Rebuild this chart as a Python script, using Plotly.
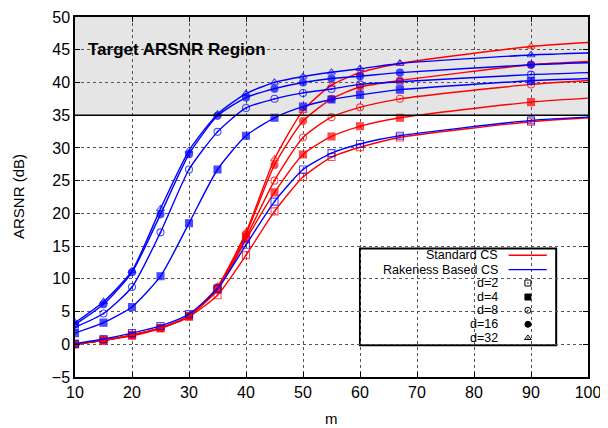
import plotly.graph_objects as go

m = [10, 15, 20, 25, 30, 35, 40, 45, 50, 55, 60, 67, 90, 100]
n_markers = 13  # last point (m=100) carries no marker

rake_d2 = [0.1, 0.8, 1.7, 2.8, 4.6, 8.5, 15.2, 21.8, 26.7, 29.2, 30.6, 31.85, 34.2, 34.7]
rake_d4 = [1.7, 3.3, 5.7, 10.4, 18.5, 26.7, 31.85, 34.6, 36.3, 37.4, 38.1, 38.9, 40.25, 40.6]
rake_d8 = [2.6, 4.7, 8.75, 17.1, 26.7, 32.45, 36.1, 37.5, 38.4, 39.0, 39.7, 40.1, 41.2, 41.5]
rake_d16 = [3.0, 6.1, 11.0, 19.85, 29.05, 34.9, 37.7, 39.05, 40.0, 40.6, 40.95, 41.5, 42.7, 43.0]
rake_d32 = [3.3, 6.5, 11.2, 20.7, 29.6, 35.15, 38.3, 40.0, 40.9, 41.55, 42.1, 42.9, 44.2, 44.5]

std_d2 = [0.0, 0.6, 1.3, 2.4, 4.2, 7.5, 13.6, 20.3, 25.55, 28.6, 30.1, 31.6, 34.0, 34.6]
std_d4 = [0.0, 0.6, 1.4, 2.5, 4.3, 8.3, 16.0, 23.2, 29.0, 31.75, 33.3, 34.6, 37.0, 37.6]
std_d8 = [0.0, 0.6, 1.4, 2.5, 4.3, 8.5, 16.3, 25.0, 31.6, 34.7, 36.2, 37.5, 39.7, 40.3]
std_d16 = [0.0, 0.6, 1.4, 2.5, 4.3, 8.7, 16.8, 27.4, 34.1, 37.5, 39.3, 40.3, 42.7, 43.2]
std_d32 = [0.0, 0.6, 1.4, 2.5, 4.3, 8.8, 17.1, 28.3, 35.7, 39.6, 41.5, 42.9, 45.5, 46.1]

d_labels = ["d=2", "d=4", "d=8", "d=16", "d=32"]
symbols = ["square-open-dot", "square", "circle-open-dot", "circle", "triangle-up-open-dot"]
series_labels = ["Standard CS", "Rakeness Based CS"]
target_low, target_high = 35, 50

RED = "#ff0000"
BLUE = "#0000ff"
FONT = "Liberation Sans, Arial, sans-serif"

fig = go.Figure()

sizes = [7] * n_markers + [0] * (len(m) - n_markers)

def add_series(ys, color, sym):
    fig.add_trace(go.Scatter(
        x=m, y=ys, mode="lines+markers",
        line=dict(color=color, width=1.4, shape="spline", smoothing=0.6),
        marker=dict(symbol=sym, size=sizes, color=color,
                    line=dict(color=color, width=1.1)),
        showlegend=False, cliponaxis=True))

for ys, sym in zip([std_d2, std_d4, std_d8, std_d16, std_d32], symbols):
    add_series(ys, RED, sym)
for ys, sym in zip([rake_d2, rake_d4, rake_d8, rake_d16, rake_d32], symbols):
    add_series(ys, BLUE, sym)

# Target region shading
fig.add_shape(type="rect", xref="x domain", yref="y", x0=0, x1=1,
              y0=target_low, y1=target_high, fillcolor="#e5e5e5",
              line=dict(width=0), layer="below")
fig.add_shape(type="line", xref="x domain", yref="y", x0=0, x1=1,
              y0=target_low, y1=target_low, line=dict(color="black", width=1.5))

fig.add_annotation(x=12.0, y=45, xref="x", yref="y", text="<b>Target ARSNR Region</b>",
                   showarrow=False, xanchor="left", yanchor="middle",
                   font=dict(family=FONT, size=17, color="black"))

# Axis titles as annotations (fixed positions)
fig.add_annotation(x=0.5, y=0, xref="paper", yref="paper", text="m", showarrow=False,
                   xanchor="center", yanchor="middle", yshift=-41,
                   font=dict(family=FONT, size=15, color="black"))
fig.add_annotation(x=0, y=0.5, xref="paper", yref="paper", text="ARSNR (dB)", showarrow=False,
                   xanchor="center", yanchor="middle", xshift=-57, textangle=-90,
                   font=dict(family=FONT, size=15, color="black"))

# Manual gnuplot-style legend (text right, sample left)
bx0, bx1, by0, by1 = 0.5555, 0.938, 0.088, 0.3567
fig.add_shape(type="rect", xref="paper", yref="paper", x0=bx0, x1=bx1, y0=by0, y1=by1,
              fillcolor="white", line=dict(color="black", width=2), layer="between")
row_y = [0.338, 0.2983, 0.2611, 0.2222, 0.1853, 0.1464, 0.1083]
text_x = 0.8275
labels = series_labels + d_labels
for lab, yy in zip(labels, row_y):
    fig.add_annotation(x=text_x, y=yy, xref="paper", yref="paper", text=lab,
                       showarrow=False, xanchor="right", yanchor="middle",
                       font=dict(family=FONT, size=12.5, color="black"))
for col, yy in zip([RED, BLUE], row_y[:2]):
    fig.add_shape(type="line", xref="paper", yref="paper", x0=0.8453, x1=0.9197,
                  y0=yy, y1=yy, line=dict(color=col, width=1.4), layer="above")

fig.add_trace(go.Scatter(
    x=[0.8829] * 5, y=row_y[2:], mode="markers", xaxis="x2", yaxis="y2",
    marker=dict(symbol=symbols, size=6, color="black", line=dict(color="black", width=1)),
    showlegend=False, hoverinfo="skip"))

axis_common = dict(
    showline=True, linecolor="black", linewidth=1.5, mirror="allticks",
    ticks="inside", ticklen=5, tickwidth=1, tickcolor="black",
    showgrid=True, gridcolor="#555555", griddash="dot", gridwidth=1,
    zeroline=False, automargin=False, tickfont=dict(family=FONT, size=16, color="black"),
)

fig.update_layout(
    width=600, height=420,
    margin=dict(l=67, r=20, t=9, b=51, autoexpand=False),
    paper_bgcolor="white", plot_bgcolor="white",
    xaxis=dict(range=[10, 100], dtick=10, tick0=10, **axis_common),
    yaxis=dict(range=[-5, 50], dtick=5, tick0=0, **axis_common),
    xaxis2=dict(range=[0, 1], overlaying="x", visible=False, fixedrange=True),
    yaxis2=dict(range=[0, 1], overlaying="y", visible=False, fixedrange=True),
    showlegend=False,
)

fig.write_html("out.html")
